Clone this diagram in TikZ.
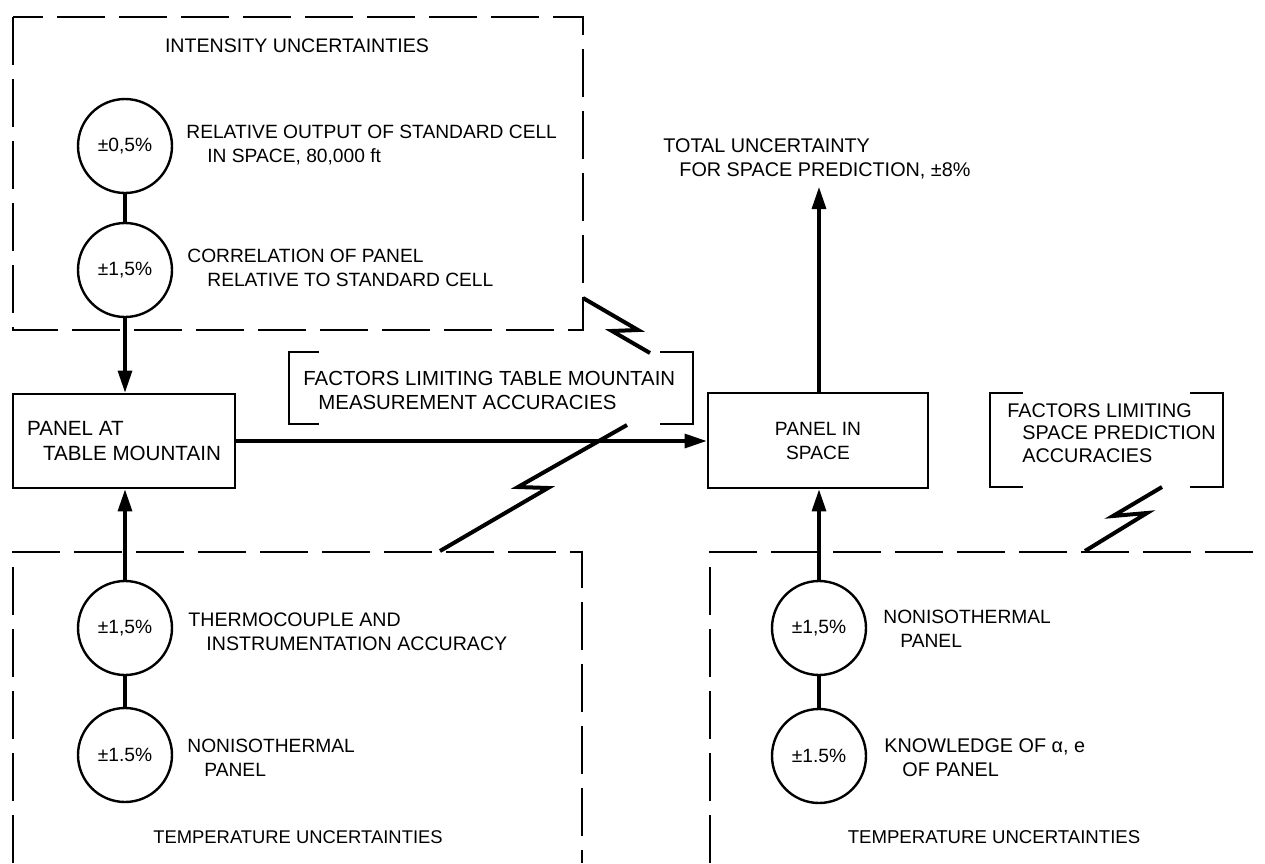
\documentclass[tikz,border=0pt]{standalone}
\usepackage{fontspec}
\setmainfont{Liberation Sans}
\usetikzlibrary{arrows.meta}
\newcommand{\mylines}[1]{\begin{tabular}[t]{@{}l@{}}#1\end{tabular}}
\begin{document}
\begin{tikzpicture}[x=0.5pt,y=-0.5pt,
  font=\fontsize{9.6}{12}\selectfont,
  dbox/.style={line width=1.4pt, dash pattern=on 24pt off 7pt},
  panel/.style={draw, line width=1.4pt, inner sep=0pt},
  unc/.style={draw, circle, line width=1.2pt, minimum size=47pt, inner sep=0pt},
  lbl/.style={anchor=base west, inner sep=0pt},
  ttl/.style={anchor=base, inner sep=0pt},
  link/.style={line width=1.6pt},
  arr/.style={line width=1.6pt, -{Triangle[length=11pt,width=7pt]}},
  brk/.style={line width=1.4pt},
  bolt/.style={line width=2pt, line join=miter}]
\useasboundingbox (0,0) rectangle (1265,863);

% ---------- dashed group boxes ----------
\draw[dbox] (13,17) rectangle (583,330);
\draw[dbox] (13,863) -- (13,552) -- (582,552) -- (582,863);
\draw[dbox] (710,863) -- (710,552) -- (1265,552);

\node[ttl, font=\fontsize{9.8}{12}\selectfont] (intens) at (297,52) {INTENSITY UNCERTAINTIES};
\node[ttl, font=\fontsize{9.2}{12}\selectfont] (tempL) at (298,843) {TEMPERATURE UNCERTAINTIES};
\node[ttl, font=\fontsize{9.3}{12}\selectfont] (tempR) at (994,843) {TEMPERATURE UNCERTAINTIES};

% ---------- panels ----------
\node[panel, minimum width=111pt, minimum height=47pt, align=left,
      font=\fontsize{10.3}{12.5}\selectfont] (ptm) at (124,441)
  {PANEL AT\\\hspace*{8pt}TABLE MOUNTAIN};
\node[panel, minimum width=110pt, minimum height=47.5pt, align=center] (pis) at (818,440.5)
  {PANEL IN\\SPACE};

% ---------- uncertainty circles ----------
\node[unc] (a1) at (125,146) {±0,5\%};
\node[unc] (a2) at (125,270) {±1,5\%};
\node[unc] (b1) at (125,628) {±1,5\%};
\node[unc] (b2) at (125,755) {±1.5\%};
\node[unc] (c1) at (819,628) {±1,5\%};
\node[unc] (c2) at (819,756) {±1.5\%};

\node[lbl] (ta1) at (186,138) {\mylines{RELATIVE OUTPUT OF STANDARD CELL\\\hspace*{10.5pt}IN SPACE, 80,000 ft}};
\node[lbl] (ta2) at (187,262) {\mylines{CORRELATION OF PANEL\\\hspace*{10pt}RELATIVE TO STANDARD CELL}};
\node[lbl, font=\fontsize{9.8}{12}\selectfont] (tb1) at (188,626) {\mylines{THERMOCOUPLE AND\\\hspace*{9pt}INSTRUMENTATION ACCURACY}};
\node[lbl] (tb2) at (187,752) {\mylines{NONISOTHERMAL\\\hspace*{8.5pt}PANEL}};
\node[lbl] (tc1) at (883,623) {\mylines{NONISOTHERMAL\\\hspace*{8.5pt}PANEL}};
\node[lbl, font=\fontsize{9.9}{12}\selectfont] (tc2) at (884,752) {\mylines{KNOWLEDGE OF α, e\\\hspace*{9pt}OF PANEL}};

% ---------- total ----------
\coordinate (tot) at (819,187);
\node[lbl, font=\fontsize{9.9}{12}\selectfont] (ttot) at (663,152) {\mylines{TOTAL UNCERTAINTY\\\hspace*{8pt}FOR SPACE PREDICTION, ±8\%}};

% ---------- bracketed notes ----------
\node[lbl, font=\fontsize{10.2}{12}\selectfont] (ftm) at (303,385) {\mylines{FACTORS LIMITING TABLE MOUNTAIN\\\hspace*{7.5pt}MEASUREMENT ACCURACIES}};
\draw[brk] (319,352) -- (289,352) -- (289,424) -- (319,424);
\draw[brk] (660,352) -- (693,352) -- (693,424) -- (660,424);

\node[lbl, font=\fontsize{9.9}{11.3}\selectfont] (fsp) at (1007,417) {\mylines{FACTORS LIMITING\\\hspace*{7.5pt}SPACE PREDICTION\\\hspace*{7.5pt}ACCURACIES}};
\draw[brk] (1023,393) -- (990,393) -- (990,487) -- (1023,487);
\draw[brk] (1190,393) -- (1223,393) -- (1223,487) -- (1190,487);

% ---------- lightning marks ----------
\coordinate (z1s) at (583,298);
\coordinate (z1e) at (650,353);
\draw[bolt] (z1s) -- (638,330) -- (612,331) -- (z1e);
\coordinate (z2s) at (627,425);
\coordinate (z2e) at (440,551);
\draw[bolt] (z2s) -- (518,487) -- (548,488) -- (z2e);
\coordinate (z3s) at (1162,487);
\coordinate (z3e) at (1085,551);
\draw[bolt] (z3s) -- (1113,516) -- (1147,513) -- (z3e);

% ---------- connectors ----------
\draw[link] (a1) -- (a2);
\draw[arr] (a2.south) -- (a2.south |- ptm.north);
\draw[link] (b1) -- (b2);
\draw[arr] (b1.north) -- (b1.north |- ptm.south);
\draw[arr] (ptm.east) -- (ptm.east -| pis.west);
\draw[link] (c1) -- (c2);
\draw[arr] (c1.north) -- (c1.north |- pis.south);
\draw[arr] (pis.north -| tot) -- (tot);
\end{tikzpicture}
\end{document}
